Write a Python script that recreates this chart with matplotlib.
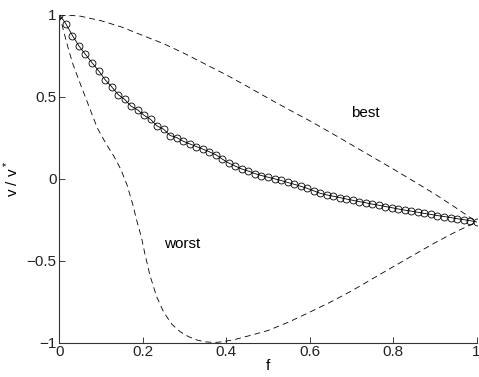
import numpy as np
import matplotlib
matplotlib.use("Agg")
import matplotlib.pyplot as plt
from matplotlib.ticker import FuncFormatter

plt.rcParams['font.family'] = ['Liberation Sans', 'DejaVu Sans']
plt.rcParams['mathtext.fontset'] = 'custom'
plt.rcParams['mathtext.rm'] = 'Liberation Sans'
plt.rcParams['lines.scale_dashes'] = False

# simulated curve, 65 samples on f = 0 .. 1
f_sim = np.arange(65) / 64.0
v_sim = [1.000, 0.943, 0.872, 0.808, 0.757, 0.706, 0.658, 0.603, 0.560, 0.512,
         0.483, 0.441, 0.418, 0.385, 0.360, 0.320, 0.300, 0.262, 0.250, 0.227,
         0.211, 0.195, 0.179, 0.163, 0.145, 0.118, 0.094, 0.075, 0.058, 0.045,
         0.030, 0.018, 0.008, -0.002, -0.012, -0.024, -0.035, -0.047, -0.060, -0.075,
         -0.090, -0.100, -0.108, -0.116, -0.125, -0.133, -0.141, -0.148, -0.156, -0.163,
         -0.171, -0.178, -0.186, -0.193, -0.199, -0.206, -0.213, -0.219, -0.226, -0.232,
         -0.238, -0.245, -0.251, -0.257, -0.265]

# best-case bound
f_best = [0, 0.05, 0.1, 0.15, 0.2, 0.25, 0.3, 0.35, 0.4, 0.45, 0.5, 0.55, 0.6,
          0.65, 0.7, 0.75, 0.8, 0.85, 0.9, 0.95, 1.0]
v_best = [1.0, 0.99, 0.962, 0.923, 0.872, 0.822, 0.762, 0.697, 0.632, 0.562,
          0.49, 0.42, 0.352, 0.28, 0.206, 0.132, 0.058, -0.018, -0.095, -0.178, -0.265]

# worst-case bound
f_worst = [0, 0.01, 0.02, 0.032, 0.051, 0.071, 0.091, 0.111, 0.131, 0.147, 0.162,
           0.176, 0.186, 0.197, 0.205, 0.217, 0.233, 0.25, 0.27, 0.29, 0.31, 0.33,
           0.35, 0.37, 0.39, 0.42, 0.45, 0.5, 0.55, 0.6, 0.65, 0.7, 0.75, 0.8, 0.85,
           0.9, 0.95, 1.0]
v_worst = [1.0, 0.90, 0.805, 0.70, 0.571, 0.439, 0.307, 0.216, 0.134, 0.057, -0.038,
           -0.16, -0.262, -0.363, -0.46, -0.59, -0.72, -0.815, -0.89, -0.935, -0.965, -0.985,
           -0.996, -1.0, -0.996, -0.982, -0.962, -0.927, -0.875, -0.815, -0.753, -0.686,
           -0.612, -0.538, -0.465, -0.392, -0.325, -0.265]

xticks = [0, 0.2, 0.4, 0.6, 0.8, 1]
yticks = [-1, -0.5, 0, 0.5, 1]

fig = plt.figure(figsize=(4.79, 3.77), dpi=100)
ax = fig.add_axes([0.124, 0.0915, 0.871, 0.870])

ax.plot(f_best, v_best, color='k', lw=0.6, dashes=(4.3, 2.9))
ax.plot(f_worst, v_worst, color='k', lw=0.6, dashes=(4.3, 2.9))
ax.plot(f_sim, v_sim, color='k', lw=0.6, marker='o', ms=5,
        mfc='none', mec='k', mew=0.6)

ax.text(0.70, 0.40, 'best', fontsize=11, ha='left', va='center')
ax.text(0.25, -0.40, 'worst', fontsize=11, ha='left', va='center')

ax.set_xlim(0, 1)
ax.set_ylim(-1, 1)
ax.set_xticks(xticks)
ax.set_yticks(yticks)
fmt = FuncFormatter(lambda v, p: ('%g' % v).replace('-', '\u2212'))
ax.xaxis.set_major_formatter(fmt)
ax.yaxis.set_major_formatter(fmt)
ax.tick_params(direction='in', length=4, width=0.6, labelsize=11, pad=2, colors='#222222')
ax.spines['top'].set_visible(False)
ax.spines['right'].set_visible(False)
for s in ['left', 'bottom']:
    ax.spines[s].set_linewidth(0.8)
    ax.spines[s].set_color('#333333')

ax.set_xlabel('f', fontsize=11, labelpad=0)
ax.set_ylabel('v / v$^*$', fontsize=11, labelpad=4)

fig.savefig('out.png', dpi=100)
